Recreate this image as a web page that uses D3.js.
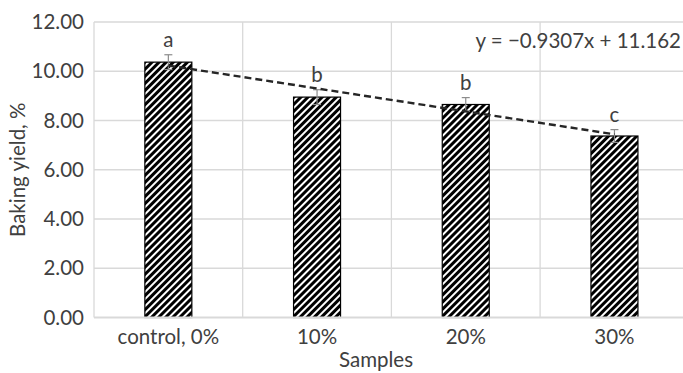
<!doctype html>
<html>
<head>
	<meta charset="UTF-8">
	<script src="https://d3js.org/d3.v7.min.js"></script>
	<style>
		body { margin: 0; background: #fff; }
		text { font-family: Lato, "Open Sans", sans-serif; fill: #404040; }
	</style>
</head>
<body>
	<script>
		// data
		var samples = ["control, 0%", "10%", "20%", "30%"];
		var yieldValues = [10.37, 8.95, 8.65, 7.37];
		var errors = [0.30, 0.30, 0.28, 0.26];
		var letters = ["a", "b", "b", "c"];
		var yTicks = [0, 2, 4, 6, 8, 10, 12];
		var slope = -0.9307, intercept = 11.162;

		var width = 683, height = 373;
		var margin = {top: 22, left: 94, bottom: 55.5};
		var plotRight = 94 + 4 * 148.7;
		var fontSize = "20.5px";

		var svg = d3.select("body").append("svg")
			.attr("width", width)
			.attr("height", height);

		// hatch pattern like Excel's wide upward diagonal
		var pat = svg.append("defs").append("pattern")
			.attr("id", "hatch")
			.attr("patternUnits", "userSpaceOnUse")
			.attr("width", 5)
			.attr("height", 5)
			.attr("patternTransform", "rotate(45)");
		pat.append("rect").attr("width", 5).attr("height", 5).attr("fill", "white");
		pat.append("rect").attr("width", 3).attr("height", 5).attr("fill", "black");

		var x = d3.scaleBand()
			.domain(samples)
			.range([margin.left, plotRight])
			.paddingInner(0.684)
			.paddingOuter(0.342);

		var xBand = d3.scaleBand()
			.domain(samples)
			.range([margin.left, plotRight]);

		var y = d3.scaleLinear()
			.domain([0, 12])
			.range([height - margin.bottom, margin.top]);

		// horizontal gridlines
		svg.append("g").selectAll("line")
			.data(yTicks.filter(function(d) { return d > 0; }))
			.enter().append("line")
			.attr("x1", margin.left).attr("x2", plotRight)
			.attr("y1", function(d) { return y(d); })
			.attr("y2", function(d) { return y(d); })
			.attr("stroke", "#d9d9d9")
			.attr("stroke-width", 1.3);

		// vertical gridlines at category boundaries
		svg.append("g").selectAll("line")
			.data(samples)
			.enter().append("line")
			.attr("x1", function(d) { return xBand(d); })
			.attr("x2", function(d) { return xBand(d); })
			.attr("y1", y(12)).attr("y2", y(0))
			.attr("stroke", "#d9d9d9")
			.attr("stroke-width", 1.3);

		// y tick labels
		svg.append("g").selectAll("text")
			.data(yTicks)
			.enter().append("text")
			.attr("x", 84)
			.attr("y", function(d) { return y(d) + 7; })
			.attr("text-anchor", "end")
			.style("font-size", fontSize)
			.text(function(d) { return d3.format(".2f")(d); });

		// bars
		svg.append("g").selectAll("rect")
			.data(yieldValues)
			.enter().append("rect")
			.attr("x", function(d, i) { return x(samples[i]); })
			.attr("width", x.bandwidth())
			.attr("y", function(d) { return y(d); })
			.attr("height", function(d) { return y(0) - y(d); })
			.attr("fill", "url(#hatch)")
			.attr("stroke", "black")
			.attr("stroke-width", 1.2);

		// x axis line
		svg.append("line")
			.attr("x1", margin.left).attr("x2", plotRight)
			.attr("y1", y(0)).attr("y2", y(0))
			.attr("stroke", "#d9d9d9")
			.attr("stroke-width", 2);

		// error bars
		var eb = svg.append("g").attr("stroke", "#8c8c8c").attr("stroke-width", 1.2);
		yieldValues.forEach(function(v, i) {
			var cx = x(samples[i]) + x.bandwidth() / 2;
			eb.append("line").attr("x1", cx).attr("x2", cx)
				.attr("y1", y(v - errors[i])).attr("y2", y(v + errors[i]));
			eb.append("line").attr("x1", cx - 4).attr("x2", cx + 4)
				.attr("y1", y(v + errors[i])).attr("y2", y(v + errors[i]));
			eb.append("line").attr("x1", cx - 4).attr("x2", cx + 4)
				.attr("y1", y(v - errors[i])).attr("y2", y(v - errors[i]));
		});

		// linear trendline
		var cx0 = x(samples[0]) + x.bandwidth() / 2;
		var cx3 = x(samples[3]) + x.bandwidth() / 2;
		svg.append("line")
			.attr("x1", cx0).attr("y1", y(slope * 1 + intercept))
			.attr("x2", cx3).attr("y2", y(slope * 4 + intercept))
			.attr("stroke", "#262626")
			.attr("stroke-width", 2.4)
			.attr("stroke-dasharray", "7,4");

		// significance letters
		svg.append("g").selectAll("text")
			.data(letters)
			.enter().append("text")
			.attr("x", function(d, i) { return x(samples[i]) + x.bandwidth() / 2; })
			.attr("y", function(d, i) { return y(yieldValues[i] + errors[i]) - 7.5; })
			.attr("text-anchor", "middle")
			.style("font-size", fontSize)
			.text(function(d) { return d; });

		// x tick labels
		svg.append("g").selectAll("text")
			.data(samples)
			.enter().append("text")
			.attr("x", function(d) { return xBand(d) + xBand.bandwidth() / 2; })
			.attr("y", 344)
			.attr("text-anchor", "middle")
			.style("font-size", fontSize)
			.text(function(d) { return d; });

		// trendline equation
		svg.append("text")
			.attr("x", 681)
			.attr("y", 48)
			.attr("text-anchor", "end")
			.style("font-size", fontSize)
			.text("y = \u22120.9307x + 11.162");

		// axis titles
		svg.append("text")
			.attr("x", 376)
			.attr("y", 367)
			.attr("text-anchor", "middle")
			.style("font-size", fontSize)
			.text("Samples");

		svg.append("text")
			.attr("transform", "translate(25," + y(6) + ") rotate(-90)")
			.attr("text-anchor", "middle")
			.style("font-size", fontSize)
			.text("Baking yield, %");
	</script>
</body>
</html>
